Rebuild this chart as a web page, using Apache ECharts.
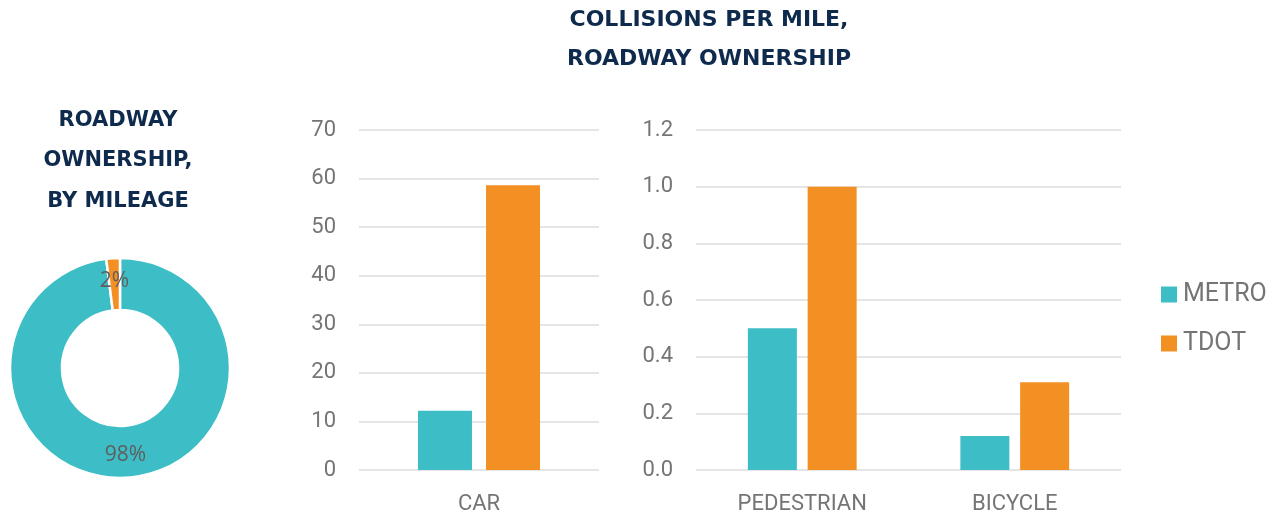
<!DOCTYPE html>
<html>
<head>
<meta charset="utf-8">
<title>Collisions per Mile, Roadway Ownership</title>
<script src="https://cdn.jsdelivr.net/npm/echarts@6/dist/echarts.min.js"></script>
<style>
  html, body { margin: 0; padding: 0; background: #ffffff; }
  #chart { width: 1279px; height: 516px; }
</style>
</head>
<body>
<div id="chart"></div>
<script>
// Roadway ownership share by mileage (percent)
const ownershipNames = ['METRO', 'TDOT'];
const ownershipShare = [98, 2];

// Collisions per mile, car crashes
const carCategories = ['CAR'];
const metroCar = [12.2];
const tdotCar = [58.6];

// Collisions per mile, pedestrian and bicycle crashes
const activeCategories = ['PEDESTRIAN', 'BICYCLE'];
const metroActive = [0.50, 0.12];
const tdotActive = [1.00, 0.31];

// Axis ticks
const carTicks = { min: 0, max: 70, interval: 10 };
const activeTicks = { min: 0, max: 1.2, interval: 0.2 };

const TEAL = '#3dbdc5';
const ORANGE = '#f39023';
const NAVY = '#0e2a4d';
const GRAY = '#757575';
const GRID_LINE = '#dcdcdc';
const TITLE_FONT = '"DejaVu Sans", sans-serif';
const BODY_FONT = 'Roboto, "Noto Sans", sans-serif';

const chart = echarts.init(document.getElementById('chart'), null, { renderer: 'canvas' });

const valueAxis = (ticks, gridIndex, fmt) => ({
  type: 'value',
  gridIndex: gridIndex,
  min: ticks.min,
  max: ticks.max,
  interval: ticks.interval,
  axisLine: { show: false },
  axisTick: { show: false },
  axisLabel: {
    color: GRAY, fontFamily: BODY_FONT, fontSize: 22, margin: 23,
    formatter: fmt
  },
  splitLine: { lineStyle: { color: GRID_LINE, width: 1.5 } }
});

const categoryAxis = (cats, gridIndex) => ({
  type: 'category',
  gridIndex: gridIndex,
  data: cats,
  axisLine: { show: false },
  axisTick: { show: false },
  axisLabel: { color: GRAY, fontFamily: BODY_FONT, fontSize: 22, margin: 23 }
});

const option = {
  backgroundColor: '#ffffff',
  animation: false,
  title: [
    {
      text: 'COLLISIONS PER MILE,\nROADWAY OWNERSHIP',
      left: 709, top: 1, padding: 0,
      textAlign: 'center',
      textStyle: {
        color: NAVY, fontFamily: TITLE_FONT, fontWeight: 'bold',
        fontSize: 22, lineHeight: 39
      }
    },
    {
      text: 'ROADWAY\nOWNERSHIP,\nBY MILEAGE',
      left: 118, top: 100, padding: 0,
      textAlign: 'center',
      textStyle: {
        color: NAVY, fontFamily: TITLE_FONT, fontWeight: 'bold',
        fontSize: 21, lineHeight: 40.5
      }
    }
  ],
  legend: {
    data: ['METRO', 'TDOT'],
    orient: 'vertical',
    left: 1161, top: 282,
    padding: 0,
    icon: 'rect',
    itemWidth: 16, itemHeight: 16,
    itemGap: 24,
    textStyle: { color: GRAY, fontFamily: BODY_FONT, fontSize: 25, lineHeight: 24, padding: [0, 0, 0, 1] }
  },
  grid: [
    { left: 359, right: 680, top: 130, bottom: 46 },
    { left: 696, right: 158, top: 130, bottom: 46 }
  ],
  xAxis: [
    categoryAxis(carCategories, 0),
    categoryAxis(activeCategories, 1)
  ],
  yAxis: [
    valueAxis(carTicks, 0, v => String(v)),
    valueAxis(activeTicks, 1, v => v.toFixed(1))
  ],
  series: [
    {
      name: 'METRO', type: 'bar', xAxisIndex: 0, yAxisIndex: 0,
      data: metroCar, barWidth: 54, barGap: '26%',
      itemStyle: { color: TEAL }
    },
    {
      name: 'TDOT', type: 'bar', xAxisIndex: 0, yAxisIndex: 0,
      data: tdotCar, barWidth: 54, barGap: '26%',
      itemStyle: { color: ORANGE }
    },
    {
      name: 'METRO', type: 'bar', xAxisIndex: 1, yAxisIndex: 1,
      data: metroActive, barWidth: 49, barGap: '22%',
      itemStyle: { color: TEAL }
    },
    {
      name: 'TDOT', type: 'bar', xAxisIndex: 1, yAxisIndex: 1,
      data: tdotActive, barWidth: 49, barGap: '22%',
      itemStyle: { color: ORANGE }
    },
    {
      name: 'Ownership', type: 'pie',
      center: [120, 368],
      radius: [58, 110],
      startAngle: 90,
      clockwise: true,
      avoidLabelOverlap: false,
      legendHoverLink: false,
      data: ownershipNames.map((n, i) => ({
        name: n,
        value: ownershipShare[i],
        itemStyle: { color: i === 0 ? TEAL : ORANGE }
      })),
      itemStyle: { borderColor: '#ffffff', borderWidth: 2.5 },
      label: {
        show: true, position: 'inside',
        formatter: '{c}%',
        color: '#5e5e5e',
        fontFamily: '"Open Sans", sans-serif',
        fontSize: 21,
        padding: [5, 0, 0, 0]
      },
      labelLine: { show: false },
      emphasis: { disabled: true }
    }
  ]
};

chart.setOption(option);
</script>
</body>
</html>
